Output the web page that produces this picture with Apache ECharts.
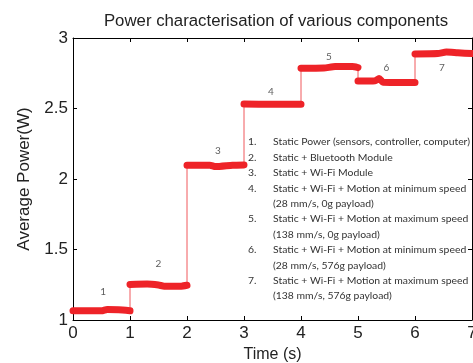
<!DOCTYPE html>
<html>
<head>
<meta charset="utf-8">
<script src="https://cdn.jsdelivr.net/npm/echarts@6/dist/echarts.min.js"></script>
<style>html,body{margin:0;padding:0;background:#fff;}#c{width:473px;height:363px;}</style>
</head>
<body>
<div id="c"></div>
<script>
// Data
const seg1T = [0, 0.5, 0.6, 0.8, 1.0];
const seg1P = [1.065, 1.065, 1.075, 1.072, 1.065];
const seg2T = [1.0, 1.3, 1.5, 1.6, 1.9, 2.0];
const seg2P = [1.252, 1.255, 1.248, 1.24, 1.24, 1.246];
const seg3T = [2.0, 2.4, 2.5, 2.8, 3.0];
const seg3P = [2.098, 2.098, 2.088, 2.098, 2.1];
const seg4T = [3.0, 3.5, 4.0];
const seg4P = [2.532, 2.53, 2.53];
const seg5T = [4.0, 4.4, 4.6, 4.9, 5.0];
const seg5P = [2.785, 2.787, 2.797, 2.797, 2.79];
const seg6T = [5.0, 5.3, 5.37, 5.44, 6.0];
const seg6P = [2.695, 2.697, 2.712, 2.686, 2.684];
const seg7T = [6.0, 6.4, 6.55, 6.75, 7.0];
const seg7P = [2.887, 2.89, 2.9, 2.895, 2.89];

const stepLabels = ['1', '2', '3', '4', '5', '6', '7'];
const stepLabelX = [0.53, 1.5, 2.54, 3.47, 4.49, 5.5, 6.47];
const stepLabelY = [1.2, 1.4, 2.2, 2.62, 2.87, 2.79, 2.79];

const xTicks = [0, 1, 2, 3, 4, 5, 6, 7];
const yTicks = [1, 1.5, 2, 2.5, 3];

const listNums = ['1.', '2.', '3.', '4.', '', '5.', '', '6.', '', '7.', ''];
const listText = [
  'Static Power (sensors, controller, computer)',
  'Static + Bluetooth Module',
  'Static + Wi-Fi Module',
  'Static + Wi-Fi + Motion at minimum speed',
  '(28 mm/s, 0g payload)',
  'Static + Wi-Fi + Motion at maximum speed',
  '(138 mm/s, 0g payload)',
  'Static + Wi-Fi + Motion at minimum speed',
  '(28 mm/s, 576g payload)',
  'Static + Wi-Fi + Motion at maximum speed',
  '(138 mm/s, 576g payload)'
];

const segsT = [seg1T, seg2T, seg3T, seg4T, seg5T, seg6T, seg7T];
const segsP = [seg1P, seg2P, seg3P, seg4P, seg5P, seg6P, seg7P];

const RED = '#ee2328';
const series = [];
const all = [];
segsT.forEach((t, i) => t.forEach((x, j) => all.push([x, segsP[i][j]])));
series.push({
  type: 'line', data: all, symbol: 'none', silent: true,
  lineStyle: { color: '#f0585c', width: 1 }, z: 2
});
segsT.forEach((t, i) => {
  series.push({
    type: 'line', symbol: 'none', silent: true, smooth: 0.2,
    data: t.map((x, j) => [x, segsP[i][j]]),
    lineStyle: { color: RED, width: 7, cap: 'round', join: 'round' }, z: 3
  });
});
series.push({
  type: 'scatter', symbolSize: 0, silent: true,
  data: stepLabelX.map((x, i) => [x, stepLabelY[i], stepLabels[i]]),
  label: { show: true, position: 'inside', formatter: p => p.data[2],
    fontFamily: 'Lato', fontSize: 10, color: '#333' }, z: 4
});

const gfx = [];
const lineTop = 143, lineH = 15.4;
listText.forEach((s, i) => {
  const y = lineTop + i * lineH;
  if (listNums[i]) gfx.push({ type: 'text', left: 248, top: y - 6,
    style: { text: listNums[i], font: '10.4px Lato', fill: '#333' } });
  gfx.push({ type: 'text', left: 273, top: y - 6,
    style: { text: s, font: '10.4px Lato', fill: '#333' } });
});

const axisTxt = { fontFamily: 'Liberation Sans', color: '#222' };
const chart = echarts.init(document.getElementById('c'), null, { renderer: 'canvas' });
chart.setOption({
  animation: false,
  title: { text: 'Power characterisation of various components', left: 271, top: 8,
    textAlign: 'center',
    textStyle: { fontFamily: 'Liberation Sans', fontWeight: 'normal', fontSize: 16.8, color: '#222' } },
  grid: { left: 73, right: 1, top: 38, bottom: 43, containLabel: false, outerBoundsMode: 'none' },
  xAxis: [{
    type: 'value', min: xTicks[0], max: xTicks[xTicks.length - 1], interval: 1,
    name: 'Time (s)', nameLocation: 'middle', nameGap: 26,
    nameTextStyle: Object.assign({ fontSize: 16 }, axisTxt),
    axisLine: { show: true, onZero: false, lineStyle: { color: '#000', width: 1 } },
    axisTick: { show: true, inside: true, length: 4, lineStyle: { color: '#000' } },
    axisLabel: Object.assign({ fontSize: 17, margin: 5 }, axisTxt),
    splitLine: { show: false }
  }, {
    type: 'value', position: 'top', min: xTicks[0], max: xTicks[xTicks.length - 1], interval: 1,
    axisLine: { show: true, onZero: false, lineStyle: { color: '#000', width: 1 } },
    axisTick: { show: true, inside: true, length: 4, lineStyle: { color: '#000' } },
    axisLabel: { show: false }, splitLine: { show: false }
  }],
  yAxis: [{
    type: 'value', min: yTicks[0], max: yTicks[yTicks.length - 1], interval: 0.5,
    name: 'Average Power(W)', nameLocation: 'middle', nameGap: 40, nameRotate: 90,
    nameTextStyle: Object.assign({ fontSize: 17 }, axisTxt),
    axisLine: { show: true, onZero: false, lineStyle: { color: '#000', width: 1 } },
    axisTick: { show: true, inside: true, length: 4, lineStyle: { color: '#000' } },
    axisLabel: Object.assign({ fontSize: 17, margin: 5 }, axisTxt),
    splitLine: { show: false }
  }, {
    type: 'value', position: 'right', min: yTicks[0], max: yTicks[yTicks.length - 1], interval: 0.5,
    axisLine: { show: true, onZero: false, lineStyle: { color: '#000', width: 1 } },
    axisTick: { show: true, inside: true, length: 4, lineStyle: { color: '#000' } },
    axisLabel: { show: false }, splitLine: { show: false }
  }],
  graphic: gfx,
  series: series
});
</script>
</body>
</html>
